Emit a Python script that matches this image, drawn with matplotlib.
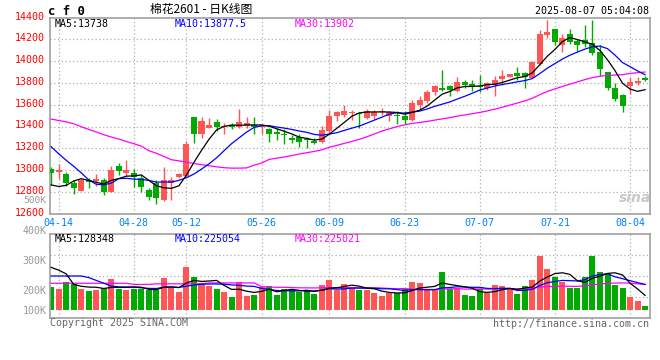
import numpy as np
import matplotlib
matplotlib.use("Agg")
import matplotlib.pyplot as plt
from matplotlib.transforms import ScaledTranslation

# ---------------- data ----------------
dates_idx = [1, 11, 18, 28, 37, 47, 57, 67, 77]
date_labels = ["04-14", "04-28", "05-12", "05-26", "06-09", "06-23", "07-07", "07-21", "08-04"]

opens = [13009, 12979, 12964, 12882, 12812, 12909, 12903, 12909, 12800, 13036,
         12976, 12973, 12925, 12818, 12879, 12730, 12879, 12934, 12945, 13485,
         13327, 13388, 13443, 13394, 13418, 13400, 13409, 13415, 13394, 13373,
         13348, 13334, 13291, 13306, 13285, 13270, 13261, 13357, 13494, 13509,
         13527, 13524, 13476, 13494, 13530, 13494, 13509, 13500, 13457, 13600,
         13630, 13721, 13755, 13767, 13727, 13812, 13791, 13773, 13752, 13782,
         13833, 13858, 13888, 13888, 13848, 13970, 14242, 14291, 14152, 14245,
         14182, 14191, 14170, 14079, 13897, 13752, 13691, 13776, 13797, 13848]
highs = [13030, 13055, 12985, 12906, 12918, 12927, 12964, 12927, 13036, 13066,
         13091, 13006, 12955, 12839, 12909, 13025, 12934, 12976, 13267, 13485,
         13485, 13479, 13467, 13433, 13433, 13564, 13488, 13485, 13410, 13388,
         13388, 13373, 13318, 13327, 13306, 13297, 13403, 13555, 13539, 13600,
         13555, 13530, 13560, 13555, 13570, 13539, 13539, 13539, 13645, 13676,
         13736, 13782, 13918, 13782, 13852, 13827, 13827, 13873, 13812, 13864,
         13918, 13882, 13945, 13903, 14000, 14282, 14373, 14291, 14245, 14291,
         14206, 14327, 14373, 14145, 13897, 13797, 13697, 13858, 13858, 13864]
lows = [12864, 12918, 12852, 12782, 12812, 12839, 12852, 12767, 12797, 12952,
        12948, 12843, 12800, 12727, 12688, 12721, 12727, 12925, 12939, 13248,
        13294, 13388, 13357, 13327, 13376, 13388, 13388, 13327, 13330, 13257,
        13273, 13236, 13252, 13215, 13206, 13236, 13252, 13342, 13448, 13488,
        13464, 13388, 13470, 13470, 13509, 13448, 13424, 13424, 13448, 13548,
        13615, 13691, 13727, 13676, 13721, 13752, 13730, 13712, 13736, 13682,
        13782, 13858, 13827, 13752, 13848, 13964, 14212, 14145, 14085, 14161,
        14094, 14130, 14055, 13864, 13736, 13636, 13533, 13697, 13782, 13821]
closes = [12976, 13003, 12882, 12836, 12909, 12894, 12921, 12800, 13003, 12994,
          13003, 12934, 12845, 12752, 12748, 12909, 12909, 12964, 13243, 13334,
          13455, 13418, 13394, 13405, 13394, 13443, 13436, 13394, 13405, 13334,
          13327, 13321, 13273, 13258, 13273, 13252, 13364, 13500, 13530, 13545,
          13533, 13518, 13539, 13533, 13545, 13530, 13494, 13464, 13612, 13645,
          13721, 13767, 13736, 13736, 13812, 13782, 13773, 13758, 13797, 13827,
          13864, 13882, 13867, 13852, 13994, 14245, 14267, 14176, 14215, 14176,
          14152, 14161, 14070, 13924, 13752, 13652, 13585, 13806, 13818, 13829]
volumes = [202200, 184600, 246100, 225600, 184600, 167000, 175800, 193400, 272500, 184600,
           175800, 184600, 184600, 175800, 175800, 281300, 193400, 158200, 378000, 290100,
           237300, 211000, 184600, 158200, 114300, 246100, 123100, 131900, 202200, 211000,
           131900, 184600, 175800, 158200, 175800, 140600, 222700, 263700, 175800, 228500,
           202200, 175800, 175800, 149400, 123100, 149400, 149400, 184600, 246100, 237300,
           184600, 184600, 334000, 184600, 184600, 131900, 123100, 184600, 149400, 219800,
           211000, 184600, 140600, 211000, 263700, 474700, 360400, 290100, 246100, 193400,
           193400, 290100, 474700, 334000, 316400, 219800, 193400, 114300, 79100, 35200]

ma5_head = [12864, 12850, 12860, 12900]
ma10_head = [13215, 13150, 13090, 13035, 12975, 12910, 12870, 12865, 12880]
ma30_head = [13468, 13455, 13443, 13425, 13398, 13373, 13350, 13325, 13303, 13285,
             13262, 13242, 13220, 13178, 13155, 13125, 13095, 13085, 13073, 13060,
             13050, 13040, 13030, 13022, 13018, 13018, 13020, 13045, 13065]
vma5_head = [375000, 350000, 318000, 225000]
vma10_head = [299000, 299000, 299000, 299000, 299000, 285000, 260000, 235000, 210000]
vma30_head = [235000] * 11 + [225000] * 3 + [230000] * 7 + [238000] * 7 + [205000]

price_ticks = [12600, 12800, 13000, 13200, 13400, 13600, 13800, 14000, 14200, 14400]
vol_labels = ["400K", "300K", "200K", "100K"]
ma_price_text = ["MA5:13738", "MA10:13877.5", "MA30:13902"]
ma_vol_text = ["MA5:128348", "MA10:225054", "MA30:225021"]

# ---------------- helpers ----------------
def moving(vals, n, head):
    vals = np.asarray(vals, float)
    out = np.convolve(vals, np.ones(n) / n, mode="valid")
    return np.concatenate([np.asarray(head, float), out])

W, H = 660, 360
RED = "#ff5555"
GREEN = "#00aa00"
MONO = "DejaVu Sans Mono"
GRID = "#b0b0b0"
BORDER = "#a0a0a0"
FS = 7.2

def rect(l, t, r, b):
    return [l / W, 1 - b / H, (r - l) / W, (b - t) / H]

fig = plt.figure(figsize=(6.6, 3.6), dpi=100)
fig.patch.set_facecolor("white")

n = len(closes)
x = np.arange(n)
up = np.array(closes) >= np.array(opens)
colors = [RED if u else GREEN for u in up]
XL = (-0.15, 79.65)

# ---------------- price panel ----------------
ax = fig.add_axes(rect(50, 17.5, 650, 213.7))
ax.set_xlim(*XL)
ax.set_ylim(12600, 14400)
for yv in price_ticks[1:-1]:
    ax.axhline(yv, color=GRID, lw=0.9, ls=(0, (1, 2)), zorder=0)
for xi in dates_idx:
    ax.axvline(xi, color=GRID, lw=0.9, ls=(0, (1, 2)), zorder=0)

ax.vlines(x, lows, highs, colors=colors, lw=1.0, zorder=2)
bottoms = np.minimum(opens, closes)
heights = np.maximum(np.abs(np.array(closes) - np.array(opens)), 8)
ax.bar(x, heights, bottom=bottoms, width=0.8, color=colors, lw=0, zorder=3)

ax.plot(x, moving(closes, 30, ma30_head), color="#ff00ff", lw=0.9, zorder=4)
ax.plot(x, moving(closes, 10, ma10_head), color="#0000ff", lw=0.9, zorder=4)
ax.plot(x, moving(closes, 5, ma5_head), color="black", lw=0.9, zorder=4)

ax.set_yticks(price_ticks)
ax.set_yticklabels([str(v) for v in price_ticks], color="#ff0000", fontsize=FS, family=MONO)
ax.set_xticks(dates_idx)
ax.set_xticklabels(date_labels, color="#0080ff", fontsize=FS, family=MONO)
ax.tick_params(axis="both", length=0)
ax.tick_params(axis="y", pad=3.5)
ax.tick_params(axis="x", pad=3)
shift = ScaledTranslation(0, 0.02, fig.dpi_scale_trans)
for lab in ax.get_yticklabels():
    lab.set_transform(lab.get_transform() + shift)
for s in ax.spines.values():
    s.set_color(BORDER)
    s.set_linewidth(1.2)

for txt, xp, col in zip(ma_price_text, [55, 175, 295], ["black", "#0000ff", "#ff00ff"]):
    fig.text(xp / W, 1 - 23.7 / H, txt, fontsize=FS, family=MONO, color=col,
             va="center", ha="left")

fig.text(635 / W, 1 - 198 / H, "sina", fontsize=10, fontweight="bold", style="italic",
         color="#c8c8c8", ha="center", va="center")

# ---------------- volume panel ----------------
vax = fig.add_axes(rect(50, 234.3, 650, 318.3))
vax.set_xlim(*XL)
vpx = 8790.0  # volume per pixel
vax.set_ylim(-(318.3 - 310) * vpx, (310 - 234.3) * vpx)
for py in [255.3, 276.3, 297.3]:
    vax.axhline((310 - py) * vpx, color=GRID, lw=0.9, ls=(0, (1, 2)), zorder=0)
for xi in dates_idx:
    vax.axvline(xi, color=GRID, lw=0.9, ls=(0, (1, 2)), zorder=0)
vax.bar(x, volumes, width=0.8, color=colors, lw=0, zorder=2)
vax.plot(x, moving(volumes, 30, vma30_head), color="#ff00ff", lw=0.9, zorder=4)
vax.plot(x, moving(volumes, 10, vma10_head), color="#0000ff", lw=0.9, zorder=4)
vax.plot(x, moving(volumes, 5, vma5_head), color="black", lw=0.9, zorder=4)
vax.set_xticks([])
vax.set_yticks([])
for s in vax.spines.values():
    s.set_color(BORDER)
    s.set_linewidth(1.2)

for lab, py in zip(vol_labels, [230.7, 261, 290.7, 310.7]):
    fig.text(46.5 / W, 1 - py / H, lab, fontsize=FS, family=MONO, color="#999999",
             ha="right", va="center")
fig.text(46.5 / W, 1 - 200.5 / H, "500K", fontsize=6.8, family=MONO, color="#999999",
         ha="right", va="center")

for txt, xp, col in zip(ma_vol_text, [55, 175, 295], ["black", "#0000ff", "#ff00ff"]):
    fig.text(xp / W, 1 - 238.7 / H, txt, fontsize=FS, family=MONO, color=col,
             ha="left", va="center")

# ---------------- header / footer ----------------
fig.text(48 / W, 1 - 11.5 / H, "c f 0", fontsize=8.8, family=MONO, fontweight="bold",
         color="black", ha="left", va="center")
fig.text(201 / W, 1 - 9.5 / H, "棉花2601 - 日K线图", fontsize=8.5,
         family=["Noto Sans CJK SC", "DejaVu Sans"], color="black", ha="center", va="center")
fig.text(649 / W, 1 - 11 / H, "2025-08-07 05:04:08", fontsize=FS, family=MONO,
         color="black", ha="right", va="center")
fig.text(50 / W, 1 - 323 / H, "Copyright 2025 SINA.COM", fontsize=FS, family=MONO,
         color="#666666", ha="left", va="center")
fig.text(649 / W, 1 - 324 / H, "http://finance.sina.com.cn", fontsize=FS, family=MONO,
         color="#666666", ha="right", va="center")

fig.savefig("out.png", dpi=100, facecolor="white")
